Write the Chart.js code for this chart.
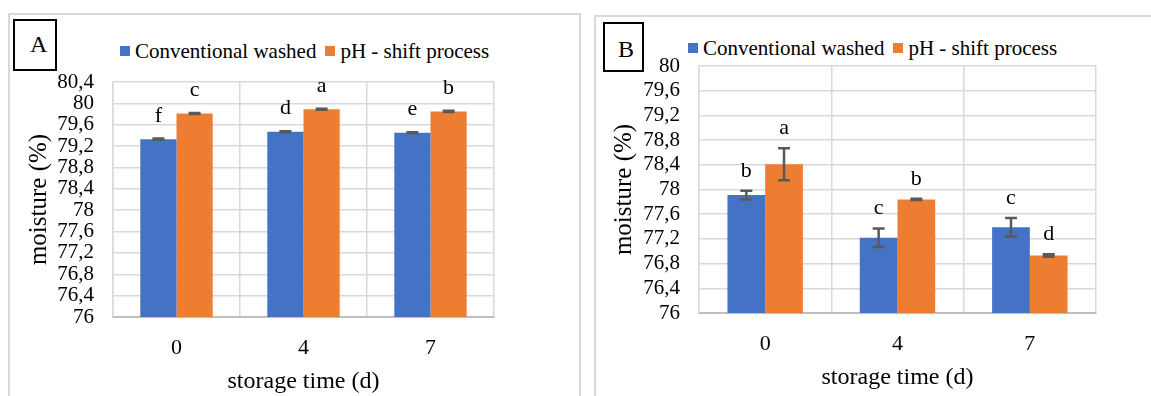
<!DOCTYPE html>
<html>
<head>
<meta charset="utf-8">
<script src="https://cdn.jsdelivr.net/npm/chart.js@4.4.1/dist/chart.umd.min.js"></script>
<style>
  body { margin: 0; width: 1151px; height: 396px; overflow: hidden; position: relative; background: #fff; font-family: "Liberation Serif", serif; }
  .panel { position: absolute; border: 2px solid #d9d9d9; border-bottom: none; height: 400px; }
  .tag { position: absolute; border: 2.5px solid #000; box-sizing: border-box; font-size: 24px; color: #000; }
  .tag span { position: absolute; }
  .legend { position: absolute; display: flex; align-items: center; font-size: 21px; line-height: 26px; white-space: nowrap; color: #000; }
  .legend .sw { display: inline-block; width: 10px; height: 10px; margin-right: 5px; }
  .legend .item { display: flex; align-items: center; margin-right: 9px; }
  canvas { position: absolute; }
</style>
</head>
<body>
<div class="panel" style="left:8px;top:13px;width:569px;"></div>
<div class="panel" style="left:594px;top:15px;width:600px;"></div>

<div class="tag" style="left:13px;top:19px;width:44px;height:52px;"><span style="left:15px;top:10px;">A</span></div>
<div class="tag" style="left:603px;top:22px;width:41px;height:50px;"><span style="left:13px;top:12px;">B</span></div>

<div class="legend" id="legendA" style="left:120px;top:38px;"></div>
<div class="legend" id="legendB" style="left:688px;top:35px;"></div>

<canvas id="chartA" width="571" height="383" style="left:8px;top:13px;"></canvas>
<canvas id="chartB" width="557" height="381" style="left:594px;top:15px;"></canvas>

<script>
// categories and series
const days = ['0', '4', '7'];
const seriesNames = ['Conventional washed', 'pH - shift process'];
const seriesColors = ['#4472C4', '#ED7D31'];

// panel A values, error bars and significance letters
const convA = [79.33, 79.47, 79.45];
const phA = [79.81, 79.89, 79.85];
const convErrA = [0.01, 0.01, 0.01];
const phErrA = [0.01, 0.01, 0.01];
const convLettersA = ['f', 'd', 'e'];
const phLettersA = ['c', 'a', 'b'];

// panel B values, error bars and significance letters
const convB = [77.91, 77.22, 77.39];
const phB = [78.41, 77.84, 76.93];
const convErrB = [0.07, 0.15, 0.15];
const phErrB = [0.26, 0.01, 0.02];
const convLettersB = ['b', 'c', 'c'];
const phLettersB = ['a', 'b', 'd'];

// y axis ticks
const yMin = 76;
const yMaxA = 80.4;
const yMaxB = 80;
const yStep = 0.4;

const FONT = '"Liberation Serif", serif';

function buildLegend(id) {
    const el = document.getElementById(id);
    seriesNames.forEach((name, i) => {
        const item = document.createElement('span');
        item.className = 'item';
        item.innerHTML = '<span class="sw" style="background:' + seriesColors[i] + '"></span>' + name;
        el.appendChild(item);
    });
}
buildLegend('legendA');
buildLegend('legendB');

// error bars + letters above bars
const errorBarPlugin = {
    id: 'errorBars',
    afterDatasetsDraw(chart, args, opts) {
        const ctx = chart.ctx;
        const y = chart.scales.y;
        chart.data.datasets.forEach((ds, i) => {
            const meta = chart.getDatasetMeta(i);
            meta.data.forEach((bar, j) => {
                const v = ds.data[j];
                const e = ds.errors[j];
                const top = y.getPixelForValue(v + e);
                const bot = y.getPixelForValue(v - e);
                ctx.save();
                ctx.strokeStyle = '#595959';
                ctx.lineWidth = 2.5;
                ctx.beginPath();
                ctx.moveTo(bar.x, top); ctx.lineTo(bar.x, bot);
                ctx.moveTo(bar.x - 6, top); ctx.lineTo(bar.x + 6, top);
                ctx.moveTo(bar.x - 6, bot); ctx.lineTo(bar.x + 6, bot);
                ctx.stroke();
                ctx.fillStyle = '#000';
                ctx.font = '22px ' + FONT;
                ctx.textAlign = 'center';
                ctx.textBaseline = 'alphabetic';
                ctx.fillText(ds.letters[j], bar.x, Math.min(top, bar.y) - opts.gap);
                ctx.restore();
            });
        });
    }
};

function fmt(v) {
    return (Math.round(v * 10) / 10).toString().replace('.', ',');
}

function makeChart(id, conv, ph, convErr, phErr, convLet, phLet, yMax, lay) {
    const ctx = document.getElementById(id).getContext('2d');
    return new Chart(ctx, {
        type: 'bar',
        data: {
            labels: days,
            datasets: [
                { label: seriesNames[0], data: conv, errors: convErr, letters: convLet, backgroundColor: seriesColors[0] },
                { label: seriesNames[1], data: ph, errors: phErr, letters: phLet, backgroundColor: seriesColors[1] }
            ]
        },
        options: {
            responsive: false,
            animation: false,
            devicePixelRatio: 1,
            layout: { padding: { left: 0, right: lay.right, top: lay.top, bottom: 0 } },
            datasets: { bar: { categoryPercentage: 0.57, barPercentage: 1 } },
            plugins: {
                legend: { display: false },
                tooltip: { enabled: false },
                errorBars: { gap: lay.gap }
            },
            scales: {
                x: {
                    grid: { offset: true, color: '#d9d9d9', lineWidth: 1.5, drawTicks: false },
                    border: { color: '#bfbfbf', width: 2 },
                    ticks: { color: '#000', padding: 18, font: { family: FONT, size: 22 } },
                    title: { display: true, text: 'storage time (d)', color: '#000', font: { family: FONT, size: 24 }, padding: { top: 0, bottom: lay.xTitlePad } },
                    afterFit(s) { s.height = lay.xHeight; }
                },
                y: {
                    min: yMin,
                    max: yMax,
                    grid: { color: '#d9d9d9', lineWidth: 1.5, drawTicks: false },
                    border: { color: '#d9d9d9', width: 1.5 },
                    ticks: {
                        stepSize: yStep, autoSkip: false, maxTicksLimit: 30,
                        color: '#000', padding: 19,
                        font: { family: FONT, size: 21, lineHeight: 0.8 },
                        callback: fmt
                    },
                    title: { display: true, text: 'moisture (%)', color: '#000', font: { family: FONT, size: 25 }, padding: { top: lay.yTitlePad, bottom: 0 } },
                    afterFit(s) { s.width = 105; }
                }
            }
        },
        plugins: [errorBarPlugin]
    });
}

makeChart('chartA', convA, phA, convErrA, phErrA, convLettersA, phLettersA, yMaxA,
    { right: 85, top: 69, xHeight: 79, xTitlePad: 0, yTitlePad: 16, gap: 17 });
makeChart('chartB', convB, phB, convErrB, phErrB, convLettersB, phLettersB, yMaxB,
    { right: 55, top: 51, xHeight: 83, xTitlePad: 4, yTitlePad: 15, gap: 14 });
</script>
</body>
</html>
